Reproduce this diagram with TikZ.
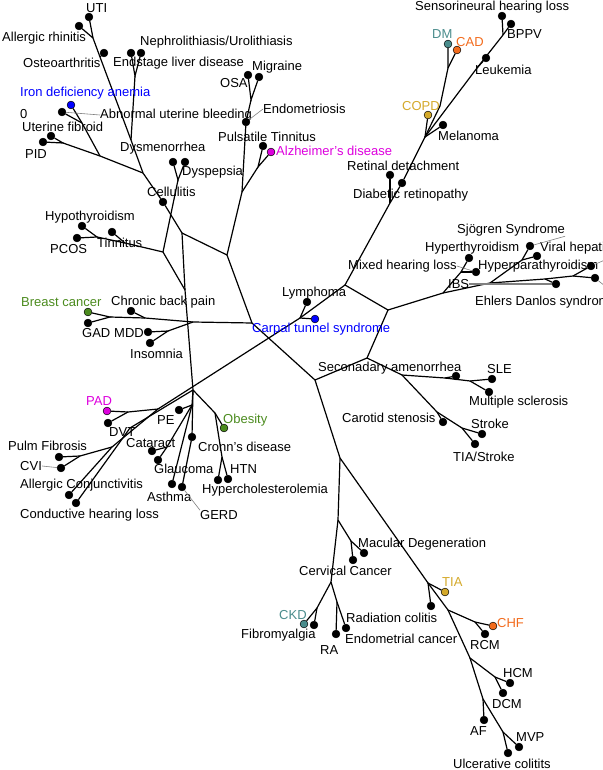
\documentclass[tikz,border=0pt]{standalone}
\usepackage{fontspec}
\setmainfont{Liberation Sans}
\usetikzlibrary{positioning}

\tikzset{
  leaf/.style={circle,draw=black,line width=0.5pt,fill=#1,inner sep=0pt,minimum size=7.8pt},
  leaf/.default=black,
  edge/.style={line width=1.2pt},
  lead/.style={draw=gray,line width=0.6pt},
  lbl/.style={anchor=west,inner sep=0pt,font=\fontsize{13}{15}\selectfont},
}

\begin{document}
\begin{tikzpicture}[x=1pt,y=-1pt]
\definecolor{idblue}{HTML}{0000FF}
\definecolor{admag}{HTML}{DD00DD}
\definecolor{bcgreen}{HTML}{4B8B1E}
\definecolor{dmteal}{HTML}{4A8C8C}
\definecolor{cadorange}{HTML}{F26B1D}
\definecolor{copdgold}{HTML}{D4A92A}

\useasboundingbox (0,0) rectangle (602,770);

% junctions
\coordinate (jUA) at (93,38);
\coordinate (jOA) at (100,57);
\coordinate (jNE) at (135,76);
\coordinate (jNE2) at (131,140);
\coordinate (jAUB) at (82,123);
\coordinate (jPU) at (63,143);
\coordinate (jIr) at (100,156);
\coordinate (jB) at (143,173);
\coordinate (jA) at (182,233);
\coordinate (jDy) at (178,180);
\coordinate (jC) at (163,252);
\coordinate (jHP) at (97,237);
\coordinate (jHT) at (125,243);
\coordinate (jD) at (185,290);
\coordinate (jF) at (193,390);
\coordinate (jOM) at (251,100);
\coordinate (jPA) at (258,167);
\coordinate (jP1) at (242,192);
\coordinate (jE) at (227,255);
\coordinate (jK1) at (110,317);
\coordinate (jK2) at (145,318);
\coordinate (jK3) at (168,331);
\coordinate (jK4) at (193,322);
\coordinate (jG) at (252,323);
\coordinate (jH) at (315,380);
\coordinate (jJ) at (367,358);
\coordinate (jR) at (388,310);
\coordinate (jM) at (345,285);
\coordinate (jL) at (300,318);
\coordinate (jV) at (390,203);
\coordinate (jX1) at (425,137);
\coordinate (jX2) at (440,106);
\coordinate (jDC) at (448,68);
\coordinate (jX3) at (477,68);
\coordinate (jX4) at (503,35);
\coordinate (jS) at (443,293);
\coordinate (jT) at (461,272);
\coordinate (jU) at (490,283);
\coordinate (jSV) at (522,260);
\coordinate (jU2) at (545,279);
\coordinate (jHE) at (573,276);
\coordinate (jJ2) at (402,375);
\coordinate (jSA) at (445,378);
\coordinate (jSM) at (470,381);
\coordinate (jCS) at (437,412);
\coordinate (jST) at (462,428);
\coordinate (jZ) at (340,458);
\coordinate (jZ2) at (338,520);
\coordinate (jMC) at (351,541);
\coordinate (jQ1) at (331,582);
\coordinate (jQ2) at (317,608);
\coordinate (jQ3) at (337,602);
\coordinate (jY1) at (428,583);
\coordinate (jY2) at (448,610);
\coordinate (jCR) at (475,622);
\coordinate (jY3) at (470,658);
\coordinate (jHD) at (495,677);
\coordinate (jY4) at (483,699);
\coordinate (jY5) at (503,732);
\coordinate (jN1) at (158,409);
\coordinate (jPD) at (128,412);
\coordinate (jPF) at (112,447);
\coordinate (jPC) at (80,456);
\coordinate (jCH) at (130,428);
\coordinate (jPE) at (192,405);
\coordinate (jCG) at (167,447);
\coordinate (jOb) at (215,413);
\coordinate (jHH) at (222,457);

% leaves
\node[leaf] (dUTI) at (89,17) {};
\node[leaf] (dAR) at (79,26) {};
\node[leaf] (dOA) at (104,53) {};
\node[leaf] (dEnd) at (131,53) {};
\node[leaf] (dNeph) at (141,53) {};
\node[leaf=idblue] (dIron) at (71,105) {};
\node[leaf] (dAUB) at (62,112) {};
\node[leaf] (dUF) at (51,136) {};
\node[leaf] (dPID) at (43,142) {};
\node[leaf] (dDysm) at (173,162) {};
\node[leaf] (dDysp) at (185,162) {};
\node[leaf] (dCell) at (163,202) {};
\node[leaf] (dHypo) at (82,226) {};
\node[leaf] (dPCOS) at (77,238) {};
\node[leaf] (dTinn) at (112,232) {};
\node[leaf] (dOSA) at (248,75) {};
\node[leaf] (dMig) at (259,77) {};
\node[leaf] (dEndo) at (246,122) {};
\node[leaf] (dPuls) at (263,146) {};
\node[leaf=admag] (dAlz) at (271,152) {};
\node[leaf=bcgreen] (dBC) at (88,312) {};
\node[leaf] (dGAD) at (88,323) {};
\node[leaf] (dCBP) at (131,311) {};
\node[leaf] (dMDD) at (148,332) {};
\node[leaf] (dIns) at (150,343) {};
\node[leaf] (dLym) at (307,302) {};
\node[leaf=idblue] (dCTS) at (315,319) {};
\node[leaf] (dSNHL) at (502,16) {};
\node[leaf] (dBPPV) at (511,24) {};
\node[leaf=dmteal] (dDM) at (448,44) {};
\node[leaf=cadorange] (dCAD) at (457,50) {};
\node[leaf] (dLeuk) at (486,58) {};
\node[leaf=copdgold] (dCOPD) at (428,115) {};
\node[leaf] (dMel) at (443,125) {};
\node[leaf] (dRD) at (390,175) {};
\node[leaf] (dDR) at (402,183) {};
\node[leaf] (dSjo) at (530,246) {};
\node[leaf] (dVH) at (537,256) {};
\node[leaf] (dHyT) at (469,258) {};
\node[leaf] (dMHL) at (476,272) {};
\node[leaf] (dIBS) at (556,284) {};
\node[leaf] (dHPT) at (591,266) {};
\node[leaf] (dEDS) at (595,278) {};
\node[leaf] (dSA) at (456,376) {};
\node[leaf] (dSLE) at (492,379) {};
\node[leaf] (dMS) at (489,392) {};
\node[leaf] (dCS) at (443,422) {};
\node[leaf] (dStr) at (482,434) {};
\node[leaf] (dTIAS) at (475,444) {};
\node[leaf] (dMac) at (364,553) {};
\node[leaf] (dCerv) at (353,560) {};
\node[leaf=dmteal] (dCKD) at (304,624) {};
\node[leaf] (dFib) at (314,625) {};
\node[leaf] (dRA) at (336,634) {};
\node[leaf] (dEC) at (346,628) {};
\node[leaf=copdgold] (dTIA) at (445,592) {};
\node[leaf] (dRC) at (431,606) {};
\node[leaf=cadorange] (dCHF) at (493,626) {};
\node[leaf] (dRCM) at (485,634) {};
\node[leaf] (dHCM) at (510,683) {};
\node[leaf] (dDCM) at (503,693) {};
\node[leaf] (dAF) at (484,720) {};
\node[leaf] (dMVP) at (519,747) {};
\node[leaf] (dUC) at (508,753) {};
\node[leaf=admag] (dPAD) at (107,411) {};
\node[leaf] (dDVT) at (108,423) {};
\node[leaf] (dPE) at (179,410) {};
\node[leaf] (dCat) at (152,451) {};
\node[leaf] (dGla) at (158,460) {};
\node[leaf] (dPF) at (59,457) {};
\node[leaf] (dCVI) at (61,468) {};
\node[leaf] (dAC) at (69,495) {};
\node[leaf] (dCHL) at (76,503) {};
\node[leaf] (dAst) at (172,484) {};
\node[leaf] (dGERD) at (182,487) {};
\node[leaf] (dCro) at (192,437) {};
\node[leaf=bcgreen] (dOb) at (224,428) {};
\node[leaf] (dHTN) at (218,480) {};
\node[leaf] (dHyC) at (228,479) {};

% branches
\draw[edge] (dUTI) -- (jUA) -- (jOA) -- (jNE2) -- (jB) -- (dCell) -- (jA);
\draw[edge] (dAR) -- (jUA);
\draw[edge] (dOA) -- (jOA);
\draw[edge] (dEnd) -- (jNE) -- (dNeph);
\draw[edge] (jNE) -- (jNE2);
\draw[edge] (dIron) -- (jAUB) -- (jIr);
\draw[edge] (dAUB) -- (jAUB);
\draw[edge] (dPID) -- (jPU) -- (dUF);
\draw[edge] (jPU) -- (jIr) -- (jB);
\draw[edge] (dDysm) -- (jDy) -- (dDysp);
\draw[edge] (jDy) -- (jC);
\draw[edge] (dHypo) -- (jHP) -- (dPCOS);
\draw[edge] (jHP) -- (jHT) -- (jC);
\draw[edge] (dTinn) -- (jHT);
\draw[edge] (jC) -- (jD);
\draw[edge] (jA) -- (jD) -- (jF);
\draw[edge] (jA) -- (jE);
\draw[edge] (dOSA) -- (jOM) -- (dMig);
\draw[edge] (jOM) -- (dEndo) -- (jP1) -- (jE);
\draw[edge] (dPuls) -- (jPA) -- (dAlz);
\draw[edge] (jPA) -- (jP1);
\draw[edge] (dBC) -- (jK1) -- (dGAD);
\draw[edge] (jK1) -- (jK2) -- (jK4) -- (jG);
\draw[edge] (dCBP) -- (jK2);
\draw[edge] (dMDD) -- (jK3) -- (dIns);
\draw[edge] (jK3) -- (jK4);
\draw[edge] (jE) -- (jG) -- (jH);
\draw[edge] (jH) -- (jJ) -- (jR) -- (jM) -- (jL);
\draw[edge] (dLym) -- (jL) -- (dCTS);
\draw[edge] (jM) -- (jV) -- (dDR) -- (jX1);
\draw[edge] (dRD) -- (jV);
\draw[edge] (dCOPD) -- (jX1) -- (dMel);
\draw[edge] (jX1) -- (jX2) -- (jDC) -- (dDM);
\draw[edge] (jDC) -- (dCAD);
\draw[edge] (jX1) -- (jX3) -- (jX4) -- (dBPPV);
\draw[edge] (dLeuk) -- (jX3);
\draw[edge] (dSNHL) -- (jX4);
\draw[edge] (jR) -- (jS) -- (jT) -- (dHyT);
\draw[edge] (jT) -- (dMHL);
\draw[edge] (jS) -- (jU) -- (jSV) -- (dSjo);
\draw[edge] (jSV) -- (dVH);
\draw[edge] (jU) -- (jU2) -- (dIBS);
\draw[edge] (jU2) -- (jHE) -- (dHPT);
\draw[edge] (jHE) -- (dEDS);
\draw[edge] (jJ) -- (jJ2) -- (jSA) -- (jSM) -- (dSLE);
\draw[edge] (dSA) -- (jSA);
\draw[edge] (jSM) -- (dMS);
\draw[edge] (jJ2) -- (jCS) -- (jST) -- (dStr);
\draw[edge] (jCS) -- (dCS);
\draw[edge] (jST) -- (dTIAS);
\draw[edge] (jH) -- (jZ) -- (jZ2) -- (jMC) -- (dMac);
\draw[edge] (jMC) -- (dCerv);
\draw[edge] (jZ2) -- (jQ1) -- (jQ2) -- (dCKD);
\draw[edge] (jQ2) -- (dFib);
\draw[edge] (jQ1) -- (jQ3) -- (dRA);
\draw[edge] (jQ3) -- (dEC);
\draw[edge] (jZ) -- (jY1) -- (dTIA);
\draw[edge] (jY1) -- (dRC);
\draw[edge] (jY1) -- (jY2) -- (jCR) -- (dCHF);
\draw[edge] (jCR) -- (dRCM);
\draw[edge] (jY2) -- (jY3) -- (jHD) -- (dHCM);
\draw[edge] (jHD) -- (dDCM);
\draw[edge] (jY3) -- (jY4) -- (dAF);
\draw[edge] (jY4) -- (jY5) -- (dMVP);
\draw[edge] (jY5) -- (dUC);
\draw[edge] (jL) -- (jN1) -- (jPF) -- (dAC);
\draw[edge] (dPAD) -- (jPD) -- (jN1);
\draw[edge] (dDVT) -- (jPD);
\draw[edge] (dPF) -- (jPC) -- (jPF);
\draw[edge] (dCVI) -- (jPC);
\draw[edge] (jF) -- (jCH) -- (dCHL);
\draw[edge] (jF) -- (jPE) -- (dPE);
\draw[edge] (jPE) -- (jCG) -- (dCat);
\draw[edge] (jCG) -- (dGla);
\draw[edge] (jPE) -- (dAst);
\draw[edge] (jF) -- (dCro) -- (dGERD);
\draw[edge] (jF) -- (jOb) -- (dOb);
\draw[edge] (jOb) -- (jHH) -- (dHTN);
\draw[edge] (jHH) -- (dHyC);

% labels
\node[lbl] (lUTI) at (86,8) {UTI};
\node[lbl] (lAR) at (2,38) {Allergic rhinitis};
\node[lbl] (lOA) at (23,63) {Osteoarthritis};
\node[lbl] (lNeph) at (140,42) {Nephrolithiasis/Urolithiasis};
\node[lbl] (lEnd) at (113,63) {Endstage liver disease};
\node[lbl] (lOSA) at (220,83) {OSA};
\node[lbl] (lMig) at (252,67) {Migraine};
\node[lbl] (lEndo) at (263,109) {Endometriosis};
\node[lbl] (lAUB) at (100,115) {Abnormal uterine bleeding};
\node[lbl,text=idblue] (lIron) at (20,93) {Iron deficiency anemia};
\node[lbl] (lZero) at (20,114) {0};
\node[lbl] (lUF) at (22,127) {Uterine fibroid};
\node[lbl] (lPID) at (25,154) {PID};
\node[lbl] (lPuls) at (218,137) {Pulsatile Tinnitus};
\node[lbl,text=admag] (lAlz) at (276,151) {Alzheimer's disease};
\node[lbl] (lDysm) at (120,148) {Dysmenorrhea};
\node[lbl] (lDysp) at (182,172) {Dyspepsia};
\node[lbl] (lCell) at (147,192) {Cellulitis};
\node[lbl] (lHypo) at (45,217) {Hypothyroidism};
\node[lbl] (lPCOS) at (50,249) {PCOS};
\node[lbl] (lTinn) at (97,243) {Tinnitus};
\node[lbl,text=bcgreen] (lBC) at (21,302) {Breast cancer};
\node[lbl] (lCBP) at (111,302) {Chronic back pain};
\node[lbl] (lGAD) at (82,333) {GAD};
\node[lbl] (lMDD) at (114,333) {MDD};
\node[lbl] (lIns) at (130,354) {Insomnia};
\node[lbl] (lLym) at (282,293) {Lymphoma};
\node[lbl,text=idblue] (lCTS) at (252,329) {Carpal tunnel syndrome};
\node[lbl] (lSNHL) at (415,7) {Sensorineural hearing loss};
\node[lbl] (lBPPV) at (507,34) {BPPV};
\node[lbl,text=dmteal] (lDM) at (432,34) {DM};
\node[lbl,text=cadorange] (lCAD) at (456,42) {CAD};
\node[lbl] (lLeuk) at (475,70) {Leukemia};
\node[lbl,text=copdgold] (lCOPD) at (402,106) {COPD};
\node[lbl] (lMel) at (438,136) {Melanoma};
\node[lbl] (lRD) at (347,166) {Retinal detachment};
\node[lbl] (lDR) at (353,195) {Diabetic retinopathy};
\node[lbl] (lSjo) at (457,230) {Sjögren Syndrome};
\node[lbl] (lHyT) at (425,248) {Hyperthyroidism};
\node[lbl] (lVH) at (540,248) {Viral hepatitis};
\node[lbl] (lMHL) at (348,266) {Mixed hearing loss};
\node[lbl] (lHPT) at (478,266) {Hyperparathyroidism};
\node[lbl] (lIBS) at (448,284) {IBS};
\node[lbl] (lEDS) at (475,302) {Ehlers Danlos syndrome};
\node[lbl] (lSA) at (318,368) {Seconadary amenorrhea};
\node[lbl] (lSLE) at (487,369) {SLE};
\node[lbl] (lMS) at (469,402) {Multiple sclerosis};
\node[lbl] (lCS) at (342,418) {Carotid stenosis};
\node[lbl] (lStr) at (471,424) {Stroke};
\node[lbl] (lTIAS) at (453,457) {TIA/Stroke};
\node[lbl,text=admag] (lPAD) at (86,401) {PAD};
\node[lbl] (lPE) at (157,420) {PE};
\node[lbl,text=bcgreen] (lOb) at (223,420) {Obesity};
\node[lbl] (lDVT) at (109,432) {DVT};
\node[lbl] (lPF) at (8,446) {Pulm Fibrosis};
\node[lbl] (lCat) at (126,443) {Cataract};
\node[lbl] (lCro) at (198,447) {Cronn's disease};
\node[lbl] (lCVI) at (20,466) {CVI};
\node[lbl] (lGla) at (154,469) {Glaucoma};
\node[lbl] (lHTN) at (230,469) {HTN};
\node[lbl] (lAC) at (20,485) {Allergic Conjunctivitis};
\node[lbl] (lHyC) at (202,490) {Hypercholesterolemia};
\node[lbl] (lAst) at (147,497) {Asthma};
\node[lbl] (lCHL) at (20,515) {Conductive hearing loss};
\node[lbl] (lGERD) at (200,515) {GERD};
\node[lbl] (lMac) at (358,544) {Macular Degeneration};
\node[lbl] (lCerv) at (299,571) {Cervical Cancer};
\node[lbl,text=copdgold] (lTIA) at (442,582) {TIA};
\node[lbl,text=dmteal] (lCKD) at (279,615) {CKD};
\node[lbl] (lRC) at (346,618) {Radiation colitis};
\node[lbl,text=cadorange] (lCHF) at (497,623) {CHF};
\node[lbl] (lFib) at (241,635) {Fibromyalgia};
\node[lbl] (lEC) at (345,639) {Endometrial cancer};
\node[lbl] (lRCM) at (470,645) {RCM};
\node[lbl] (lRA) at (320,650) {RA};
\node[lbl] (lHCM) at (503,673) {HCM};
\node[lbl] (lDCM) at (492,704) {DCM};
\node[lbl] (lAF) at (470,731) {AF};
\node[lbl] (lMVP) at (516,737) {MVP};
\node[lbl] (lUC) at (453,764) {Ulcerative colitits};

% leader lines
\draw[lead] (dAUB) -- (lAUB.west);
\draw[lead] (dEndo) -- (lEndo.west);
\draw[lead] (lCVI.east) -- (dCVI);
\draw[lead] (dGERD) -- (lGERD.north west);
\draw[lead] (lMHL.east) -- (dMHL);
\draw[lead,line width=1.4pt] (lIBS.east) -- (dIBS);
\draw[lead] (lSjo.south east) -- (dSjo);
\draw[lead] (lVH.south east) -- (dHPT);
\draw[lead] (lEDS.north east) -- (dEDS);
\end{tikzpicture}
\end{document}
